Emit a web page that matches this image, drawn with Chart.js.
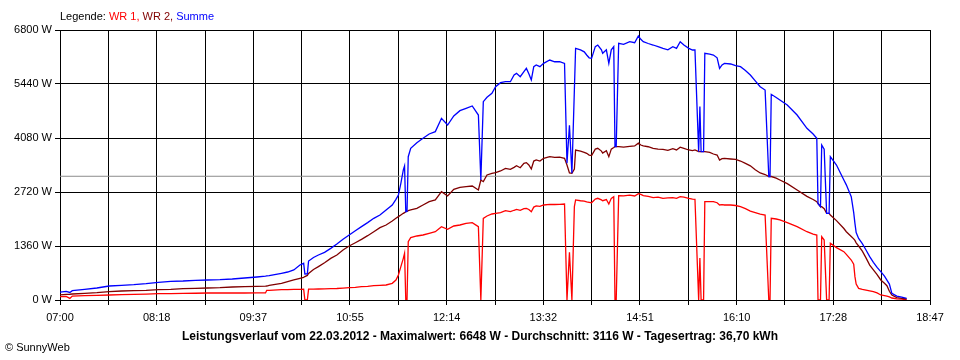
<!DOCTYPE html>
<html>
<head>
<meta charset="utf-8">
<script src="https://cdn.jsdelivr.net/npm/chart.js@4.4.1/dist/chart.umd.min.js"></script>
<style>
    body { margin: 0; background: #fff; }
    #wrap { width: 960px; height: 360px; }
</style>
</head>
<body>
<div id="wrap"><canvas id="powerChart" width="960" height="360"></canvas></div>
<script>
// Messzeitpunkte (hh:mm) und Leistung in W
const times = [
    '07:00','07:05','07:08','07:10','07:20','07:30','07:40','07:50',
    '08:00','08:10','08:20','08:30','08:40','08:50',
    '09:00','09:10','09:20','09:30','09:40','09:47','09:48','09:50',
    '10:00','10:05','10:10','10:15','10:18','10:19','10:21','10:22','10:26','10:30','10:35','10:40','10:45','10:50','10:55',
    '11:00','11:05','11:10','11:15','11:20','11:25','11:30','11:33','11:35','11:37','11:39','11:40','11:41','11:42','11:43','11:45','11:50','11:55',
    '12:00','12:05','12:10','12:15','12:20','12:25','12:30','12:35','12:40','12:42','12:44','12:47','12:51','12:54','12:58',
    '13:02','13:06','13:09','13:11','13:14','13:17','13:19','13:21','13:23','13:25','13:27','13:30','13:33','13:38','13:42','13:46','13:50','13:52','13:54','13:56','13:58','13:59',
    '14:03','14:06','14:08','14:10','14:12','14:15','14:17','14:20','14:21','14:24','14:26','14:28','14:30','14:31','14:32','14:34','14:38','14:43','14:47','14:50','14:52','14:54','14:58',
    '15:02','15:06','15:10','15:14','15:18','15:21','15:24','15:27','15:31','15:34','15:36','15:39','15:40','15:41','15:43','15:44','15:48','15:51','15:54','15:56','15:58',
    '16:00','16:05','16:09','16:13','16:17','16:21','16:25','16:29','16:33','16:36','16:37','16:38','16:42','16:45','16:51','16:59',
    '17:07','17:12','17:15','17:16','17:18','17:19','17:21','17:23','17:25','17:26','17:31','17:37','17:39','17:43','17:45','17:46','17:47','17:49','17:52','17:55','17:58',
    '18:01','18:04','18:07','18:10','18:12','18:14','18:16','18:20','18:24','18:28'
];
const wr1 = [
    84,90,40,100,109,117,126,134,
    143,150,160,162,168,170,
    176,176,176,176,178,178,244,244,
    260,262,269,269,270,0,0,272,275,277,280,285,290,300,311,
    320,336,345,361,370,378,420,504,630,840,1049,1175,0,0,1469,1570,1612,1637,
    1679,1721,1847,1780,1864,1889,1931,1948,1847,0,2057,2115,2166,2183,2200,
    2250,2224,2260,2280,2260,2300,2309,2280,2224,2340,2370,2360,2393,2410,2405,2410,2418,0,1200,0,2350,2519,
    2500,2490,2470,2460,2450,2540,2561,2520,2500,2530,2418,2560,2600,0,0,2628,2620,2640,2620,2680,2662,2630,2610,
    2577,2590,2560,2570,2580,2560,2602,2590,2560,2540,2536,0,1057,0,0,2476,2480,2476,2450,2393,2400,
    2393,2393,2380,2350,2300,2240,2200,2160,2141,0,0,2057,2040,2015,1950,1847,
    1720,1660,1637,0,0,1595,1511,0,0,1427,1320,1217,1150,1007,900,588,400,294,270,250,230,
    210,180,126,110,100,80,50,30,20,10
];
const wr2 = [
    130,140,145,151,168,185,210,227,
    235,243,260,269,285,294,
    302,311,327,336,344,350,352,369,
    420,462,504,546,570,590,620,670,770,840,940,1049,1133,1259,1360,
    1443,1528,1620,1720,1821,1889,1990,2057,2099,2141,2183,2200,2224,2230,2249,2267,2309,2393,
    2476,2519,2728,2619,2787,2837,2854,2871,2770,3022,2980,3148,3190,3206,3250,
    3316,3291,3340,3380,3330,3442,3460,3400,3300,3500,3526,3500,3568,3610,3590,3600,3568,3400,3200,3190,3300,3778,
    3750,3720,3694,3650,3640,3800,3820,3750,3700,3760,3610,3800,3840,3861,3861,3861,3850,3870,3880,3950,3904,3880,3860,
    3820,3800,3795,3770,3810,3780,3850,3820,3778,3760,3778,3735,3735,3735,3735,3735,3720,3677,3650,3526,3560,
    3568,3551,3540,3500,3440,3380,3280,3200,3160,3106,3106,3110,3070,3022,2930,2770,
    2610,2530,2476,2430,2350,2350,2300,2183,2183,2141,2000,1800,1720,1600,1540,1500,1440,1360,1230,1060,880,
    760,640,504,420,360,220,126,60,40,25
];
const summe = [
    200,215,190,235,269,302,353,369,
    386,411,445,470,479,495,
    504,512,529,554,579,600,605,613,
    672,705,756,881,924,655,660,980,1070,1133,1200,1301,1410,1528,1637,
    1746,1847,1948,2057,2141,2267,2393,2536,2644,2938,3274,3375,2224,2230,3609,3820,3962,4072,
    4181,4240,4576,4407,4634,4768,4827,4886,4659,3022,4995,5104,5205,5373,5474,
    5498,5498,5667,5708,5624,5750,5834,5700,5541,5876,5918,5876,5960,6044,6000,6002,5960,3442,4400,3190,5289,6338,
    6300,6250,6170,6100,6086,6380,6422,6300,6212,6300,5960,6300,6380,3861,3861,6464,6440,6506,6480,6648,6565,6506,6460,
    6422,6380,6338,6300,6380,6338,6506,6420,6338,6296,6296,3735,4870,3735,3735,6212,6190,6170,6100,5834,5920,
    5960,5944,5900,5876,5780,5667,5520,5372,5289,3106,3106,5180,5100,5037,4911,4659,
    4324,4180,4072,2430,2350,3904,3800,2183,2183,3609,3400,3022,2900,2602,2200,1931,1700,1550,1420,1259,1091,
    950,820,714,600,500,400,168,100,70,42
];
const avgValue = 3116;
const xTickLabels = ['07:00','08:18','09:37','10:55','12:14','13:32','14:51','16:10','17:28','18:47'];
const startMin = 7 * 60;
const endMin = 18 * 60 + 47;
const yMax = 6800;
const yStep = 1360;

const legendParts = [
    { text: 'Legende: ', color: '#000000' },
    { text: 'WR 1, ', color: '#ff0000' },
    { text: 'WR 2, ', color: '#800000' },
    { text: 'Summe', color: '#0000ff' }
];
const footerText = 'Leistungsverlauf vom 22.03.2012 - Maximalwert: 6648 W - Durchschnitt: 3116 W - Tagesertrag: 36,70 kWh';

function toMinutes(t) {
    const [h, m] = t.split(':').map(Number);
    return h * 60 + m;
}

function points(values) {
    return times.map((t, i) => ({ x: toMinutes(t), y: values[i] }));
}

const FONT = '"Liberation Sans", Arial, sans-serif';
Chart.defaults.font.family = FONT;
Chart.defaults.font.size = 11;
Chart.defaults.color = '#000';

// Texte ausserhalb der Achsen: Legende oben, Fusszeile unten
const textPlugin = {
    id: 'texts',
    beforeDraw(chart) {
        const ctx = chart.ctx;
        ctx.save();
        ctx.fillStyle = '#fff';
        ctx.fillRect(0, 0, chart.width, chart.height);
        ctx.restore();
    },
    afterDraw(chart) {
        const ctx = chart.ctx;
        ctx.save();
        ctx.textBaseline = 'middle';
        ctx.font = '11px ' + FONT;
        let x = 60;
        legendParts.forEach(p => {
            ctx.fillStyle = p.color;
            ctx.fillText(p.text, x, 17);
            x += ctx.measureText(p.text).width;
        });
        ctx.fillStyle = '#000';
        ctx.font = 'bold 12px ' + FONT;
        ctx.textAlign = 'center';
        ctx.fillText(footerText, 480, 337);
        ctx.textAlign = 'left';
        ctx.font = '11px ' + FONT;
        ctx.fillText('\u00A9 SunnyWeb', 5, 348);
        ctx.restore();
    }
};

const ctx = document.getElementById('powerChart').getContext('2d');
new Chart(ctx, {
    type: 'line',
    data: {
        datasets: [
            { label: 'Summe', data: points(summe), borderColor: '#0000ff', order: 0 },
            { label: 'WR 2', data: points(wr2), borderColor: '#800000', order: 1 },
            { label: 'WR 1', data: points(wr1), borderColor: '#ff0000', order: 2 },
            {
                label: 'Durchschnitt',
                data: [{ x: startMin, y: avgValue }, { x: endMin, y: avgValue }],
                borderColor: '#8c8c8c', borderWidth: 1, order: 3
            }
        ]
    },
    options: {
        responsive: false,
        animation: false,
        events: [],
        datasets: { line: { borderWidth: 1.3, pointRadius: 0, tension: 0, fill: false } },
        layout: { padding: { top: 30, right: 30, left: 0, bottom: 0 } },
        plugins: { legend: { display: false }, tooltip: { enabled: false } },
        scales: {
            x: {
                type: 'linear',
                min: startMin,
                max: endMin,
                afterBuildTicks: axis => {
                    axis.ticks = Array.from({ length: 19 }, (_, i) => ({
                        value: startMin + i * (endMin - startMin) / 18
                    }));
                },
                afterFit: scale => { scale.height = 60; },
                grid: { color: '#000', lineWidth: 1, tickLength: 5 },
                border: { color: '#000' },
                ticks: {
                    autoSkip: false,
                    maxRotation: 0,
                    padding: 6,
                    callback: (value, index) => index % 2 === 0 ? xTickLabels[index / 2] : ''
                }
            },
            y: {
                min: 0,
                max: yMax,
                afterFit: scale => { scale.width = 60; },
                grid: { color: '#000', lineWidth: 1, tickLength: 5 },
                border: { color: '#000' },
                ticks: {
                    stepSize: yStep,
                    padding: 3,
                    callback: v => v + ' W'
                }
            }
        }
    },
    plugins: [textPlugin]
});
</script>
</body>
</html>
